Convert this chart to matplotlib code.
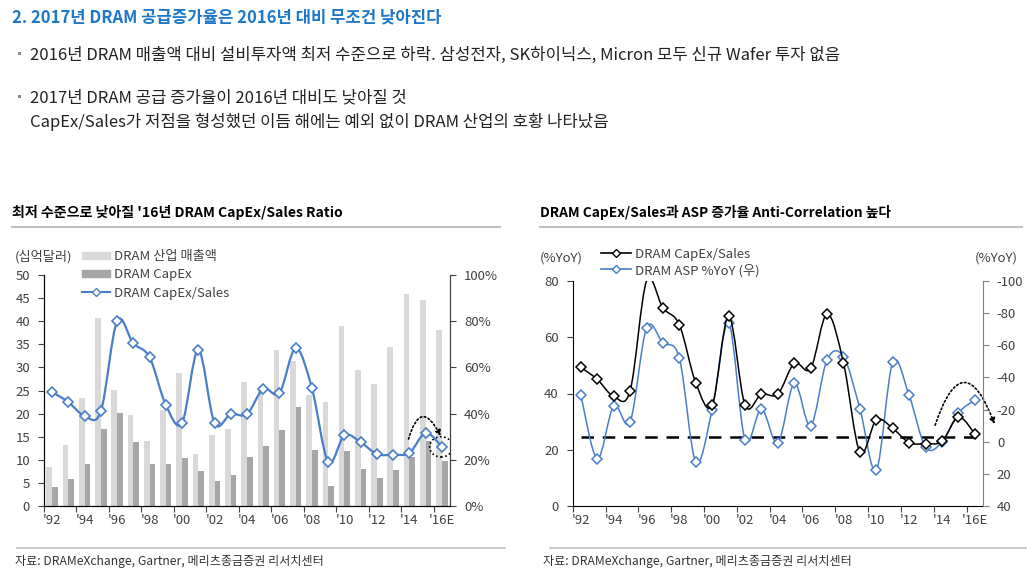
import numpy as np
import matplotlib
matplotlib.use("Agg")
import matplotlib.pyplot as plt
from matplotlib.path import Path
from matplotlib.patches import PathPatch, Patch, Ellipse
from matplotlib.lines import Line2D

plt.rcParams['font.family'] = ['Noto Sans CJK KR', 'DejaVu Sans']
plt.rcParams['axes.unicode_minus'] = False

# ---------------- data ----------------
years = ["'92", "'93", "'94", "'95", "'96", "'97", "'98", "'99", "'00", "'01", "'02", "'03",
         "'04", "'05", "'06", "'07", "'08", "'09", "'10", "'11", "'12", "'13", "'14", "'15", "'16E"]
tick_labels = ["'92", "'94", "'96", "'98", "'00", "'02", "'04", "'06", "'08", "'10", "'12", "'14", "'16E"]

sales = [8.5, 13.1, 23.4, 40.8, 25.1, 19.8, 14.0, 20.7, 28.8, 11.2, 15.3, 16.7, 26.8,
         25.5, 33.8, 31.3, 24.0, 22.6, 39.0, 29.4, 26.5, 34.4, 45.8, 44.6, 38.0]
capex = [4.2, 5.9, 9.1, 16.7, 20.1, 13.9, 9.0, 9.1, 10.4, 7.6, 5.5, 6.7, 10.7,
         13.0, 16.5, 21.4, 12.2, 4.3, 11.9, 8.1, 6.0, 7.7, 10.6, 14.1, 9.7]
ratio = [49.3, 45.0, 39.0, 41.0, 80.0, 70.4, 64.4, 43.8, 35.9, 67.6, 35.9, 39.8, 39.8,
         50.7, 48.9, 68.3, 50.9, 19.1, 30.6, 27.6, 22.5, 22.2, 23.0, 31.6, 25.7]
asp_yoy = [-28.8, 10.5, -22.3, -12.4, -70.7, -61.5, -52.0, 12.6, -20.0, -74.0, -1.3, -20.4, 0.8,
           -36.4, -9.9, -51.0, -53.0, -20.6, 17.7, -49.3, -28.8, 3.4, 0.2, -17.9, -25.9]
ref_level = 24.4

BLUE = '#4A7EC8'
LIGHT = '#D9D9D9'
DARK = '#A6A6A6'
TXT = '#404040'
W, H = 1027, 577


def fx(px):
    return px / W


def fy(py):
    return 1 - py / H


def smooth_path(x, y):
    pts = np.column_stack([x, y]).astype(float)
    n = len(pts)
    verts = [pts[0]]
    codes = [Path.MOVETO]
    for i in range(n - 1):
        p0 = pts[i - 1] if i > 0 else pts[i]
        p1 = pts[i]
        p2 = pts[i + 1]
        p3 = pts[i + 2] if i + 2 < n else pts[i + 1]
        c1 = p1 + (p2 - p0) / 6.0
        c2 = p2 - (p3 - p1) / 6.0
        verts += [c1, c2, p2]
        codes += [Path.CURVE4] * 3
    return Path(verts, codes)


def style_xaxis(ax):
    n = len(years)
    ax.set_xlim(-0.5, n - 0.5)
    ax.set_xticks(np.arange(-0.5, n - 1, 2))
    ax.set_xticklabels([])
    ax.set_xticks(np.arange(0, n, 2), minor=True)
    ax.set_xticklabels(tick_labels, minor=True)
    ax.tick_params(axis='x', which='major', length=4, direction='out', color=TXT)
    ax.tick_params(axis='x', which='minor', length=0, pad=6, labelsize=9.5, labelcolor=TXT)


fig = plt.figure(figsize=(W / 100, H / 100), dpi=100)

# ---------------- header text ----------------
fig.text(fx(12), fy(17), "2. 2017년 DRAM 공급증가율은 2016년 대비 무조건 낮아진다",
         color='#1E78C8', fontsize=12, fontweight='bold', va='center', ha='left')
for yy in (55, 98):
    fig.text(fx(14), fy(yy), "▪", color='#8C8C8C', fontsize=8, va='center', ha='left')
body = dict(color='#222222', fontsize=12, va='center', ha='left')
fig.text(fx(30), fy(55), "2016년 DRAM 매출액 대비 설비투자액 최저 수준으로 하락. 삼성전자, SK하이닉스, Micron 모두 신규 Wafer 투자 없음", **body)
fig.text(fx(30), fy(98), "2017년 DRAM 공급 증가율이 2016년 대비도 낮아질 것", **body)
fig.text(fx(30), fy(122), "CapEx/Sales가 저점을 형성했던 이듬 해에는 예외 없이 DRAM 산업의 호황 나타났음", **body)

fig.text(fx(12), fy(212), "최저 수준으로 낮아질 '16년 DRAM CapEx/Sales Ratio",
         color='black', fontsize=10.1, fontweight='bold', va='center', ha='left')
fig.text(fx(540), fy(212), "DRAM CapEx/Sales과 ASP 증가율 Anti-Correlation 높다",
         color='black', fontsize=9.9, fontweight='bold', va='center', ha='left')
for x0, x1 in ((12, 500), (540, 1022)):
    fig.add_artist(Line2D([fx(x0), fx(x1)], [fy(227), fy(227)], color='#BFBFBF', lw=1.5,
                          transform=fig.transFigure))
for x0, x1 in ((17, 505), (550, 1027)):
    fig.add_artist(Line2D([fx(x0), fx(x1)], [fy(548), fy(548)], color='#BFBFBF', lw=1.2,
                          transform=fig.transFigure))
for x0 in (15, 543):
    fig.text(fx(x0), fy(562), "자료: DRAMeXchange, Gartner, 메리츠종금증권 리서치센터",
             color='#333333', fontsize=8.7, va='center', ha='left')

# ---------------- left chart ----------------
x = np.arange(len(years))
ax1 = fig.add_axes([fx(44), fy(506), (450 - 44) / W, (506 - 275) / H])
ax1.bar(x - 0.175, sales, 0.35, color=LIGHT, zorder=2)
ax1.bar(x + 0.175, capex, 0.35, color=DARK, zorder=2)
ax1.set_ylim(0, 50)
ax1.set_yticks(np.arange(0, 51, 5))
ax1.tick_params(axis='y', length=4, direction='out', labelsize=9.5, labelcolor=TXT, color=TXT, pad=6)
style_xaxis(ax1)
ax1.spines['top'].set_visible(False)
for s in ('left', 'bottom', 'right'):
    ax1.spines[s].set_color(TXT)

ax1r = ax1.twinx()
ax1r.set_ylim(0, 100)
ax1r.set_yticks(np.arange(0, 101, 20))
ax1r.set_yticklabels([f"{v}%" for v in range(0, 101, 20)])
ax1r.tick_params(axis='y', length=4, direction='out', labelsize=9.5, labelcolor=TXT, color=TXT, pad=6)
ax1r.spines['top'].set_visible(False)
ax1r.spines['right'].set_color(TXT)
ax1r.add_patch(PathPatch(smooth_path(x, ratio), fill=False, edgecolor=BLUE, lw=1.6, zorder=3))
ax1r.plot(x, ratio, ls='none', marker='D', ms=4.8, mfc='white', mec=BLUE, mew=1.2, zorder=4)

# annotations left
ax1.annotate("", xy=(24.0, 14.6), xytext=(21.9, 13.9),
             arrowprops=dict(arrowstyle='-|>', color='black', lw=1.2, ls=(0, (1, 1.5)),
                             connectionstyle='arc3,rad=-1.35', mutation_scale=8), zorder=6)
ax1.add_patch(Ellipse((23.95, 12.8), 1.4, 4.4, fill=False, ec='black', lw=1.2,
                      ls=(0, (1, 1.5)), zorder=6))

fig.text(fx(15), fy(257), "(십억달러)", color=TXT, fontsize=9.5, va='center', ha='left')
h1 = [Patch(color=LIGHT), Patch(color=DARK),
      Line2D([], [], color=BLUE, lw=1.5, marker='D', ms=4.2, mfc='white', mec=BLUE)]
fig.legend(h1, ["DRAM 산업 매출액", "DRAM CapEx", "DRAM CapEx/Sales"],
           loc='upper left', bbox_to_anchor=(fx(82), fy(250)), frameon=False,
           fontsize=9.5, handlelength=2.1, handleheight=0.5, handletextpad=0.3,
           labelspacing=0.4, borderpad=0, borderaxespad=0, labelcolor=TXT)

# ---------------- right chart ----------------
ax2 = fig.add_axes([fx(572.7), fy(506), (983 - 572.7) / W, (506 - 281) / H])
ax2.set_ylim(0, 80)
ax2.set_yticks(np.arange(0, 81, 20))
ax2.tick_params(axis='y', length=4, direction='out', labelsize=9.5, labelcolor=TXT, color=TXT, pad=6)
style_xaxis(ax2)
ax2.spines['top'].set_visible(False)
ax2.spines['left'].set_color('black')
ax2.spines['bottom'].set_color('black')
ax2.spines['right'].set_visible(False)
ax2.hlines(ref_level, 0, len(years) - 0.6, colors='black', lw=1.8, linestyles=(0, (5, 3.5)), zorder=2)

ax2r = ax2.twinx()
ax2r.set_ylim(40, -100)
ax2r.set_yticks(np.arange(-100, 41, 20))
ax2r.set_yticklabels([str(v) for v in range(-100, 41, 20)])
ax2r.tick_params(axis='y', length=4, direction='out', labelsize=9.5, labelcolor=TXT, color='#808080', pad=6)
ax2r.spines['top'].set_visible(False)
ax2r.spines['left'].set_visible(False)
ax2r.spines['bottom'].set_visible(False)
ax2r.spines['right'].set_color('#808080')

ax2r.add_patch(PathPatch(smooth_path(x, asp_yoy), fill=False, edgecolor=BLUE, lw=1.1, zorder=3))
ax2r.plot(x, asp_yoy, ls='none', marker='D', ms=4.6, mfc='white', mec=BLUE, mew=1.1, zorder=4)
ax2r.add_patch(PathPatch(smooth_path(x, ratio), fill=False, edgecolor='black', lw=1.1, zorder=5,
                         transform=ax2.transData))
ratio_vis = [v if v < 80 else np.nan for v in ratio]
ax2r.plot(x, ratio_vis, ls='none', marker='D', ms=4.6, mfc='white', mec='black', mew=1.1, zorder=6,
          transform=ax2.transData)

ax2.annotate("", xy=(25.26, 28.2), xytext=(21.53, 27.8), annotation_clip=False,
             arrowprops=dict(arrowstyle='-|>', color='black', lw=1.2, ls=(0, (1, 1.5)),
                             connectionstyle='arc3,rad=-1.45', mutation_scale=8), zorder=7)

fig.text(fx(540), fy(258), "(%YoY)", color=TXT, fontsize=9.5, va='center', ha='left')
fig.text(fx(1018), fy(258), "(%YoY)", color=TXT, fontsize=9.5, va='center', ha='right')
h2 = [Line2D([], [], color='black', lw=1.2, marker='D', ms=4.2, mfc='white', mec='black'),
      Line2D([], [], color=BLUE, lw=1.2, marker='D', ms=4.2, mfc='white', mec=BLUE)]
fig.legend(h2, ["DRAM CapEx/Sales", "DRAM ASP %YoY (우)"],
           loc='upper left', bbox_to_anchor=(fx(601), fy(248)), frameon=False,
           fontsize=9.5, handlelength=2.3, handletextpad=0.3,
           labelspacing=0.2, borderpad=0, borderaxespad=0, labelcolor=TXT)

fig.savefig("out.png", dpi=100)
